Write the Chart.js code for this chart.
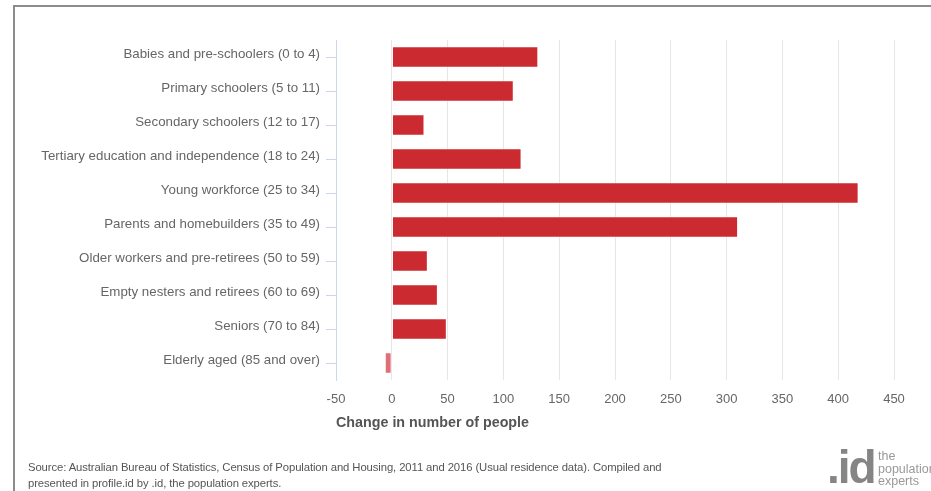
<!DOCTYPE html>
<html>
<head>
<meta charset="utf-8">
<script src="https://cdn.jsdelivr.net/npm/chart.js@4.4.1/dist/chart.umd.min.js"></script>
<style>
  html, body { margin: 0; padding: 0; background: #fff; }
  #wrap { position: relative; width: 931px; height: 491px; overflow: hidden; font-family: "Liberation Sans", Arial, sans-serif; }
  #frame { position: absolute; left: 13px; top: 5px; width: 940px; height: 500px; border-left: 2px solid #8c8c8c; border-top: 2px solid #8c8c8c; }
  #chartBox { position: absolute; left: 0; top: 0; width: 931px; height: 491px; }
  #source { position: absolute; left: 28px; top: 459px; font-size: 11.3px; line-height: 16px; color: #555; letter-spacing: -0.1px; }
  #logo { position: absolute; left: 827px; top: 443px; color: #858585; }
  #logo .mark { position: absolute; left: 0; top: 0; font-size: 46px; font-weight: bold; letter-spacing: -2px; line-height: 48px; }
  #logo .words { position: absolute; left: 51px; top: 7px; font-size: 12.5px; line-height: 12.5px; color: #999; }
</style>
</head>
<body>
<div id="wrap">
  <div id="frame"></div>
  <div id="chartBox"><canvas id="ageChart"></canvas></div>
  <div id="source">Source: Australian Bureau of Statistics, Census of Population and Housing, 2011 and 2016 (Usual residence data). Compiled and<br>presented in profile.id by .id, the population experts.</div>
  <div id="logo"><span class="mark">.id</span><span class="words">the<br>population<br>experts</span></div>
</div>
<script>
// service age groups, change 2011 -> 2016
const ageGroups = [
    'Babies and pre-schoolers (0 to 4)',
    'Primary schoolers (5 to 11)',
    'Secondary schoolers (12 to 17)',
    'Tertiary education and independence (18 to 24)',
    'Young workforce (25 to 34)',
    'Parents and homebuilders (35 to 49)',
    'Older workers and pre-retirees (50 to 59)',
    'Empty nesters and retirees (60 to 69)',
    'Seniors (70 to 84)',
    'Elderly aged (85 and over)'
];
const changeValues = [131, 109, 29, 116, 418, 310, 32, 41, 49, -6];
const xTicks = [-50, 0, 50, 100, 150, 200, 250, 300, 350, 400, 450];

const barColours = changeValues.map(v => v < 0 ? '#e16d76' : '#cc2a31');

const ctx = document.getElementById('ageChart').getContext('2d');

let chart = new Chart(ctx, {
    type: 'bar',
    data: {
        labels: ageGroups,
        datasets: [{
            data: changeValues,
            backgroundColor: barColours,
            borderColor: 'rgba(255,255,255,0.35)',
            borderWidth: 1,
            borderSkipped: false,
            barThickness: 21
        }]
    },
    options: {
        indexAxis: 'y',
        responsive: true,
        maintainAspectRatio: false,
        animation: false,
        layout: { padding: { top: 40, right: 37, bottom: 59, left: 0 } },
        plugins: {
            legend: { display: false },
            tooltip: { enabled: false }
        },
        scales: {
            x: {
                type: 'linear',
                min: xTicks[0],
                max: xTicks[xTicks.length - 1],
                afterBuildTicks: scale => { scale.ticks = xTicks.map(v => ({ value: v })); },
                afterFit: scale => { scale.height = 52; },
                grid: { color: '#e6e6e6', drawTicks: false },
                border: { display: false },
                ticks: {
                    padding: 12,
                    color: '#666',
                    font: { family: 'Liberation Sans', size: 13 }
                },
                title: {
                    display: true,
                    text: 'Change in number of people',
                    align: 'start',
                    color: '#555',
                    font: { family: 'Liberation Sans', size: 14.3, weight: 'bold' },
                    padding: { top: 4, bottom: 0 }
                }
            },
            y: {
                afterFit: scale => { scale.width = 336; },
                grid: {
                    drawOnChartArea: false,
                    offset: false,
                    tickLength: 10,
                    color: '#ccd6eb'
                },
                border: { color: '#ccd6eb' },
                ticks: {
                    padding: 6,
                    labelOffset: -3,
                    color: '#666',
                    font: { family: 'Liberation Sans', size: 13.3 }
                }
            }
        }
    }
});
</script>
</body>
</html>
